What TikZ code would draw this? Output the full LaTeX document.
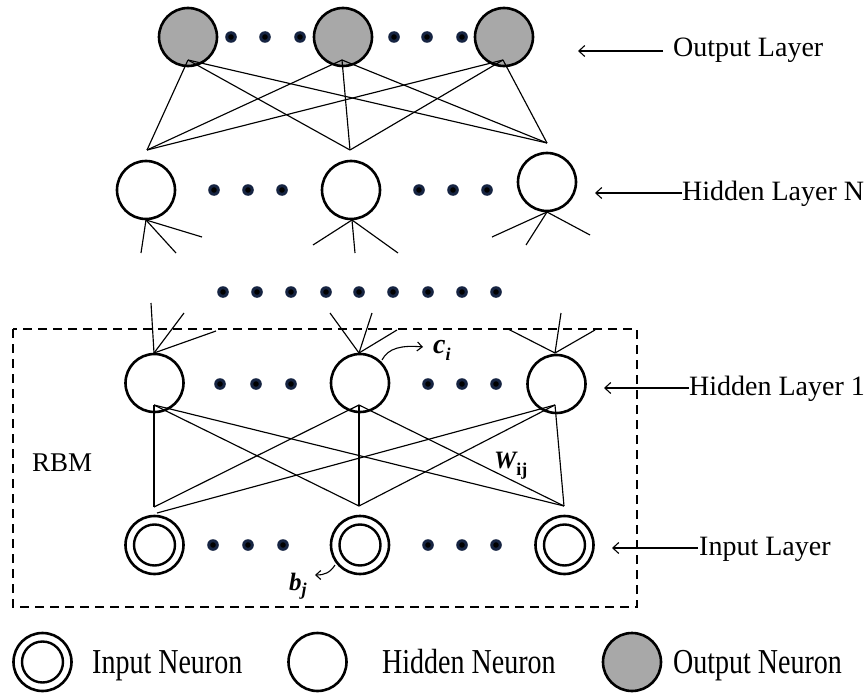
\documentclass[tikz,border=0pt]{standalone}
\usepackage{fontspec}
\setmainfont{Liberation Serif}
\usetikzlibrary{arrows.meta}
\definecolor{dotnavy}{RGB}{22,36,66}
\definecolor{outgray}{RGB}{168,168,168}
\newcommand{\lblfont}{\fontsize{28}{30}\selectfont}
\newcommand{\subfont}{\fontsize{18}{18}\selectfont}
\newcommand{\ndot}[2]{\fill[dotnavy] (#1,#2) circle (5.8pt);\fill[black] (#1,#2) circle (2.8pt);}

\begin{document}
\begin{tikzpicture}[x=1pt,y=-1pt,
  neuron/.style={circle,draw,line width=2.6pt,minimum size=58pt,inner sep=0pt},
  hidn/.style={neuron},
  outn/.style={neuron,fill=outgray},
  inpn/.style={neuron,path picture={\draw[line width=2.4pt]
      (path picture bounding box.center) circle (20.5pt);}},
  wire/.style={line width=1.15pt},
  lbl/.style={font=\lblfont,inner sep=0pt,anchor=base west},
  lblarrow/.style={line width=1.1pt,-{Straight Barb[length=6pt,width=11pt]}},
  biasarrow/.style={line width=1.1pt,-{Straight Barb[length=5pt,width=9pt]}},
  rbmbox/.style={dashed,line width=2.3pt,dash pattern=on 9pt off 6pt}
]
\useasboundingbox (0,0) rectangle (868,693);

% ---------- neurons ----------
\node[outn] (o1) at (188,37) {};
\node[outn] (o2) at (343,37) {};
\node[outn] (o3) at (504,37) {};

\node[hidn] (n1) at (146,190) {};
\node[hidn] (n2) at (351,190) {};
\node[hidn] (n3) at (547,182) {};

\node[hidn] (h1) at (154.5,383) {};
\node[hidn] (h2) at (360,383) {};
\node[hidn] (h3) at (556.5,384) {};

\node[inpn] (i1) at (154.5,545) {};
\node[inpn] (i2) at (360,545) {};
\node[inpn] (i3) at (564.5,545) {};

% ---------- ellipsis dots ----------
\foreach \x in {231,265,300,394,427,462} {\ndot{\x}{37}}
\foreach \x in {214,248,282,419,453,487} {\ndot{\x}{190}}
\foreach \x in {223,257,291,326,359,393,428,462,496} {\ndot{\x}{292}}
\foreach \x in {220,256,291,428,462,496} {\ndot{\x}{384}}
\foreach \x in {213,248,283,428,462,496} {\ndot{\x}{545}}

% ---------- wiring points ----------
\coordinate (ob1) at (188,60);  \coordinate (ob2) at (342,60);  \coordinate (ob3) at (503,60);
\coordinate (nt1) at (147,150); \coordinate (nt2) at (350,150); \coordinate (nt3) at (547,143);
\coordinate (nb1) at (146,220); \coordinate (nb2) at (352,220); \coordinate (nb3) at (547,212);
\coordinate (ht1) at (154,353); \coordinate (ht2) at (359,353); \coordinate (ht3) at (555,353);
\coordinate (hb1) at (154,405); \coordinate (hb2) at (359,405); \coordinate (hb3) at (555,405);
\coordinate (it1) at (154,507); \coordinate (it2) at (359,506); \coordinate (it3) at (564,506);
\coordinate (it1b) at (157,513);

% output layer <-> hidden layer N
\foreach \a in {ob1,ob2,ob3} {\foreach \b in {nt1,nt2,nt3} {\draw[wire] (\a) -- (\b);}}

% loose connections below hidden layer N
\coordinate (nd11) at (141,253); \coordinate (nd12) at (176,253); \coordinate (nd13) at (202,237);
\coordinate (nd21) at (313,245); \coordinate (nd22) at (355,253); \coordinate (nd23) at (398,253);
\coordinate (nd31) at (492,237); \coordinate (nd32) at (526,245); \coordinate (nd33) at (590,235);
\foreach \i in {1,2,3} {\foreach \j in {1,2,3} {\draw[wire] (nb\i) -- (nd\i\j);}}

% loose connections above hidden layer 1
\coordinate (hu11) at (151,303); \coordinate (hu12) at (184,313); \coordinate (hu13) at (216,331);
\coordinate (hu21) at (330,313); \coordinate (hu22) at (372,313); \coordinate (hu23) at (397,330);
\coordinate (hu31) at (508,329); \coordinate (hu32) at (561,313); \coordinate (hu33) at (595,330);
\foreach \i in {1,2,3} {\foreach \j in {1,2,3} {\draw[wire] (ht\i) -- (hu\i\j);}}

% hidden layer 1 <-> input layer
\foreach \a in {hb1,hb2} {\foreach \b in {it1,it2,it3} {\draw[wire] (\a) -- (\b);}}
\draw[wire] (hb3) -- (it1b);
\draw[wire] (hb3) -- (it2);
\draw[wire] (hb3) -- (it3);

% ---------- RBM frame ----------
\draw[rbmbox] (13,329) rectangle (637,607);
\node[font=\fontsize{27}{29}\selectfont,inner sep=0pt,anchor=base west] (rbm) at (32,471) {RBM};

% ---------- parameter labels ----------
\node[lbl,font=\fontsize{28}{30}\selectfont\bfseries\itshape] (ci) at (433,353)
  {c\raisebox{-7pt}{\subfont i}};
\coordinate (ciS) at (382,360);
\coordinate (ciE) at (423,347);
\draw[biasarrow] (ciS) .. controls (388,348) and (402,345) .. (ciE);

\node[lbl,font=\fontsize{25}{27}\selectfont\bfseries\itshape] (wij) at (494,468)
  {W\raisebox{-7pt}{\subfont\upshape ij}};

\node[lbl,font=\fontsize{25}{27}\selectfont\bfseries\itshape] (bj) at (289,590)
  {b\raisebox{-5pt}{\subfont j}};
\coordinate (bjS) at (335,565);
\coordinate (bjE) at (315,575);
\draw[biasarrow] (bjS) .. controls (330,573) and (324,575) .. (bjE);

% ---------- layer labels ----------
\node[lbl] (lOut) at (673,57) {Output Layer};
\node[lbl] (lHN)  at (682,200) {Hidden Layer N};
\node[lbl] (lH1)  at (689,395) {Hidden Layer 1};
\node[lbl] (lIn)  at (699,555.5) {Input Layer};

\coordinate (aOutS) at (663,51);  \coordinate (aOutE) at (578,51);
\coordinate (aHNS)  at (682,193); \coordinate (aHNE)  at (595,193);
\coordinate (aH1S)  at (689,388); \coordinate (aH1E)  at (604,388);
\coordinate (aInS)  at (698,548); \coordinate (aInE)  at (612,548);
\draw[lblarrow] (aOutS) -- (aOutE);
\draw[lblarrow] (aHNS) -- (aHNE);
\draw[lblarrow] (aH1S) -- (aH1E);
\draw[lblarrow] (aInS) -- (aInE);

% ---------- legend ----------
\node[inpn] (legIn)  at (42.5,662) {};
\node[hidn] (legHid) at (317.5,662) {};
\node[outn] (legOut) at (632,662) {};
\node[lbl] (tIn)  at (92,673)  {\scalebox{1}[1.25]{Input Neuron}};
\node[lbl] (tHid) at (382,673) {\scalebox{1}[1.25]{Hidden Neuron}};
\node[lbl] (tOut) at (673,673) {\scalebox{1}[1.25]{Output Neuron}};
\end{tikzpicture}
\end{document}
